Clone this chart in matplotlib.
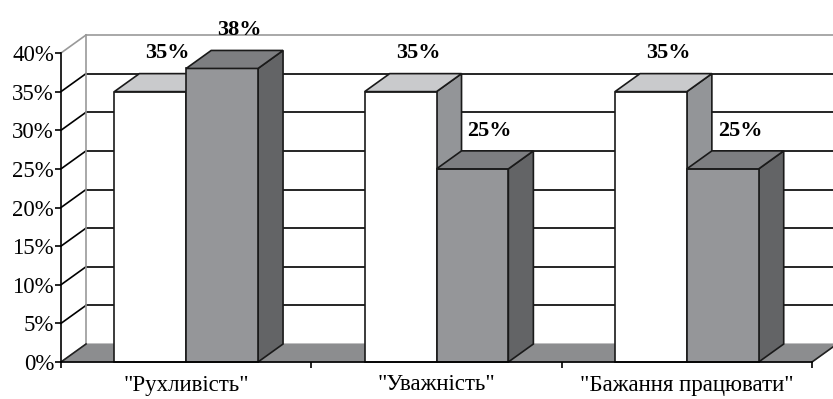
import numpy as np
import matplotlib.pyplot as plt
from matplotlib.patches import Polygon

categories = ['"Рухливість"', '"Уважність"', '"Бажання працювати"']
series_white = [35, 35, 35]
series_gray = [38, 25, 25]
yticks = [0, 5, 10, 15, 20, 25, 30, 35, 40]

plt.rcParams['font.family'] = ['Liberation Serif', 'DejaVu Serif']

fig = plt.figure(figsize=(8.33, 3.99), dpi=100)
ax = fig.add_axes([61/833, 37/399, 751/833, 309/399])
ax.set_xlim(0, 3)
ax.set_ylim(0, 40)

# depth of the 3D effect in data units
dx, dy = 0.1, 2.33
bw = 0.287
lw = 1.2

# floor
ax.add_patch(Polygon([(0, 0), (3, 0), (3 + dx, dy), (dx, dy)], closed=True,
                     facecolor='#8c8d8f', edgecolor='#8c8d8f', lw=0.8,
                     clip_on=False, zorder=1))
ax.plot([3, 3 + dx], [0, dy], color='#222222', lw=lw, clip_on=False, zorder=1.5)
ax.plot([0, dx], [0, dy], color='#222222', lw=lw, clip_on=False, zorder=1.5)

# walls / gridlines
for v in yticks[1:]:
    c = '#999999' if v == 40 else 'black'
    ax.plot([0, dx], [v, v + dy], color=c, lw=lw, clip_on=False, zorder=1)
    ax.plot([dx, 3 + dx], [v + dy, v + dy], color=c, lw=lw, clip_on=False, zorder=1)
ax.plot([dx, dx], [dy, 40 + dy], color='#999999', lw=lw, clip_on=False, zorder=1)


def bar3d(x0, h, front, top, side):
    ax.add_patch(Polygon([(x0, 0), (x0 + bw, 0), (x0 + bw, h), (x0, h)],
                         facecolor=front, edgecolor='#1a1a1a', lw=lw, zorder=3, clip_on=False))
    ax.add_patch(Polygon([(x0, h), (x0 + bw, h), (x0 + bw + dx, h + dy), (x0 + dx, h + dy)],
                         facecolor=top, edgecolor='#1a1a1a', lw=lw, zorder=3, clip_on=False))
    ax.add_patch(Polygon([(x0 + bw, 0), (x0 + bw + dx, dy), (x0 + bw + dx, h + dy), (x0 + bw, h)],
                         facecolor=side, edgecolor='#1a1a1a', lw=lw, zorder=2.9, clip_on=False))


for i, (a, b) in enumerate(zip(series_white, series_gray)):
    c = i + 0.5
    bar3d(c - bw, a, 'white', '#c9cacc', '#939598')
    bar3d(c, b, '#959699', '#7d7e81', '#636466')
    for x0, v in [(c - bw, a), (c, b)]:
        ax.annotate(f'{v}%', (x0 + bw / 2 + dx / 2, v + dy), xytext=(3.5, 11),
                    textcoords='offset points', ha='center', va='baseline',
                    fontsize=16, fontweight='bold', annotation_clip=False)

for s in ['top', 'right']:
    ax.spines[s].set_visible(False)
for s in ['left', 'bottom']:
    ax.spines[s].set_linewidth(lw)
    ax.spines[s].set_zorder(4)

ax.set_yticks(yticks)
ax.set_yticklabels([f'{v}%' for v in yticks], fontsize=16.5)
ax.set_xticks([0, 1, 2, 3])
ax.set_xticklabels([])
ax.set_xticks([0.5, 1.5, 2.5], minor=True)
ax.set_xticklabels(categories, minor=True, fontsize=16.5)
ax.tick_params(axis='both', which='major', direction='out', length=4, width=lw)
ax.tick_params(axis='x', which='minor', length=0, pad=9)
ax.tick_params(axis='y', pad=1)
ax.patch.set_visible(False)

plt.savefig('out.png', dpi=100)
